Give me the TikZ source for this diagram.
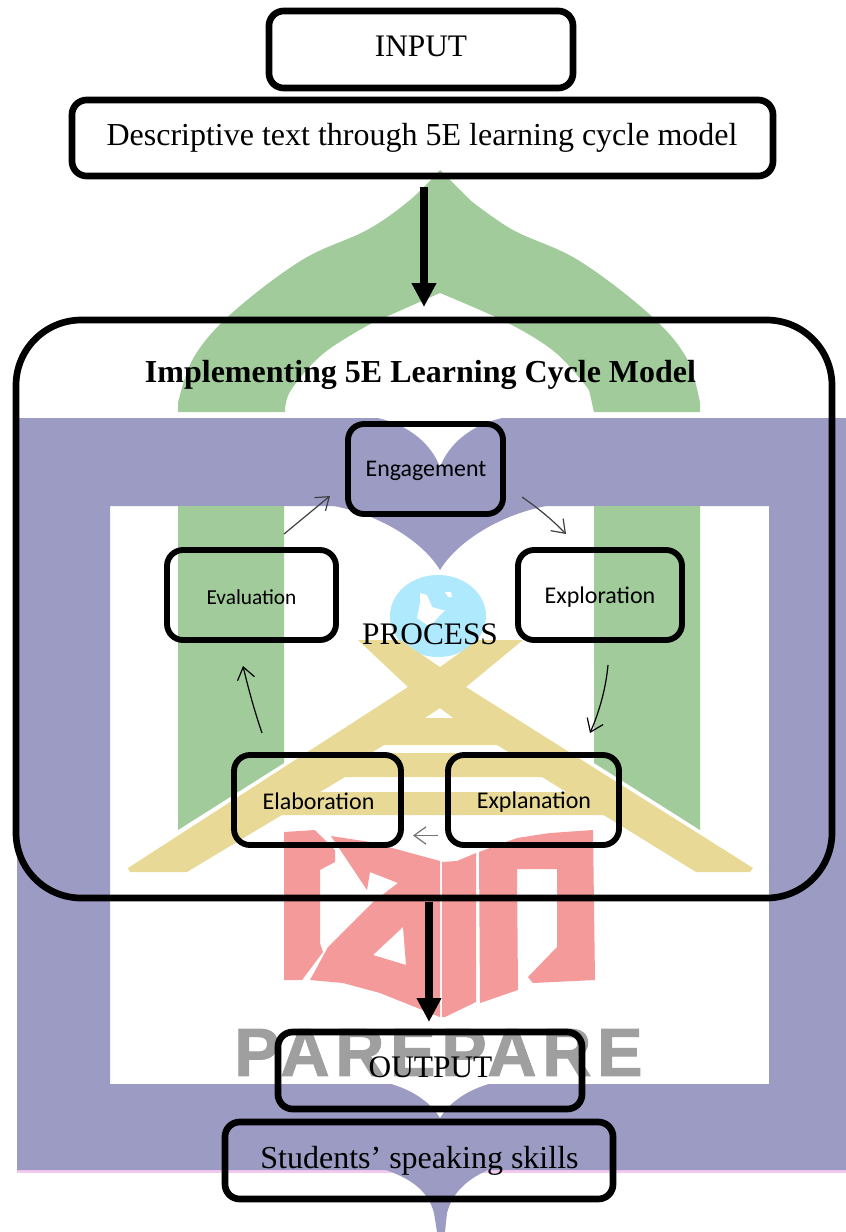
\documentclass[tikz,border=0pt]{standalone}
\usepackage{fontspec}
\usetikzlibrary{arrows.meta}
\setmainfont{Liberation Serif}
\newfontfamily\calibfont{Carlito}
\newfontfamily\parefont[LetterSpace=8.5,BoldFeatures={FakeBold=1.5}]{Liberation Sans}
\definecolor{wmgreen}{HTML}{A1CB9B}
\definecolor{wmpurple}{HTML}{9B9BC4}
\definecolor{wmyellow}{HTML}{E8DA96}
\definecolor{wmred}{HTML}{F59A9A}
\definecolor{wmblue}{HTML}{AFE9FD}
\definecolor{wmgray}{HTML}{9F9F9F}
\definecolor{wmpink}{HTML}{F5C8F0}
\tikzset{
  boxsize/.style 2 args={minimum width=#1*0.75pt,minimum height=#2*0.75pt},
  outerbox/.style={draw=black,line width=5pt,rounded corners=11pt,inner sep=0pt,fill=none},
  innerbox/.style={draw=black,line width=4.4pt,rounded corners=12pt,inner sep=0pt,fill=none},
  serifbig/.style={font=\fontsize{23.5}{26}\selectfont},
  serifwide/.style={font=\fontsize{24}{26}\selectfont},
  calib/.style={font=\calibfont\fontsize{#1}{20}\selectfont},
  bigarrow/.style={line width=5.6pt,-{Triangle[length=18pt,width=17.5pt]}},
  thinarrow/.style={line width=0.9pt,-{Straight Barb[length=9pt,width=13pt,line width=0.9pt]}},
}
\begin{document}
\begin{tikzpicture}[x=0.75pt,y=-0.75pt]
\useasboundingbox (0,0) rectangle (846,1232);
\fill[white] (0,0) rectangle (846,1232);
% --- watermark ---
% dome
\fill[wmgreen] (178,412) -- plot[smooth,tension=.6] coordinates {(178,403) (194,357) (232,313) (302,260) (367,230) (410,200) (440,170)}
  -- plot[smooth,tension=.6] coordinates {(470,200) (513,230) (578,260) (648,313) (686,357) (700,403)} -- (700,412) -- (594,412)
  -- plot[smooth,tension=.6] coordinates {(589,390) (556,353) (508,323) (440,293)}
  -- plot[smooth,tension=.6] coordinates {(372,323) (324,353) (291,390) (285,412)} -- cycle;
% frame
\fill[wmpink] (17,1170) rectangle (846,1173);
\fill[wmpurple,even odd rule] (17,418) rectangle (846,1170) (110,506) rectangle (769,1084);
% frame ornaments
\fill[white] (378,418) .. controls (410,425) and (432,445) .. (440,467) .. controls (448,445) and (470,425) .. (502,418) -- cycle;
\fill[wmpurple] (329,505) .. controls (385,515) and (425,545) .. (440,570) .. controls (455,545) and (495,515) .. (551,505) -- cycle;
\fill[white] (388,1083) .. controls (415,1090) and (433,1105) .. (440,1118) .. controls (447,1105) and (465,1090) .. (492,1083) -- cycle;
\fill[wmpurple] (383,1169) .. controls (410,1178) and (428,1190) .. (434,1213) -- (437,1232) -- (445,1232) -- (447,1213) .. controls (453,1190) and (470,1178) .. (490,1169) -- cycle;
% pillars
\fill[wmgreen] (178,506) -- (284,506) -- (284,763) -- (178,830) -- cycle;
\fill[wmgreen] (594,506) -- (700,506) -- (700,830) -- (594,763) -- cycle;
% globe
\fill[wmblue] (438,616) ellipse [x radius=48,y radius=41];
\fill[white] (420,593) -- (427,595) -- (432,607) -- (442,610) -- (445,610) -- (433,623) -- (430,627) -- (417,618) -- (420,603) -- cycle;
\fill[white] (445,592) -- (451,592) -- (452,597) -- (448,597) -- cycle;
% X / A
\fill[wmyellow,even odd rule] (358,640) -- (400,640) -- (440,667) -- (478,640) -- (523,640) -- (466,687) -- (753,868) -- (750,872) -- (696,872) -- (542,777) -- (345,777) -- (187,872) -- (130,872) -- (128,868) -- (408,687) -- cycle
  (425,718) -- (440,708) -- (453,718) -- cycle
  (384,745) -- (497,745) -- (510,753) -- (371,753) -- cycle;
\fill[wmyellow] (315,792) -- (572,792) -- (610,815) -- (278,815) -- cycle;
% red IAIN
\fill[wmred] (284,832) -- (315,830) -- (335,850) -- (335,862) -- (320,870) -- (320,943) -- (323,952) -- (302,980) -- (284,980) -- cycle;
\fill[wmred,even odd rule] (331,836) -- (370,842) -- (440,861) -- (440,1017) -- (410,1005) -- (380,993) -- (343,983) -- (310,980) -- (328,947) -- (373,902) -- (398,883) -- (370,872) -- (367,890) -- cycle
  (403,927) -- (406,965) -- (373,955) -- cycle;
\fill[wmred] (442,862) -- (457,861) -- (476,853) -- (476,1002) -- (445,1017) -- (442,1017) -- cycle;
\fill[wmred] (479,852) -- (517,838) -- (550,833) -- (593,830) -- (595,980) -- (533,983) -- (528,977) -- (557,947) -- (557,869) -- (517,869) -- (518,990) -- (480,1003) -- cycle;
% PAREPARE
\node[anchor=center,inner sep=0pt,text=wmgray,font=\parefont\bfseries\fontsize{51}{51}\selectfont] (pare) at (438.5,1052.5) {PAREPARE};
% --- diagram ---
\node[outerbox,boxsize={304}{77}] (input) at (421,49.5) {};
\node[serifbig] (inputtxt) at (421,46) {INPUT};
\node[outerbox,boxsize={701}{76}] (desc) at (422.5,138) {};
\node[serifwide] (desctxt) at (422,138) {Descriptive text through 5E learning cycle model};
\node[draw=black,line width=5pt,rounded corners=49pt,inner sep=0pt,boxsize={816}{578}] (big) at (424,609) {};
\node[font=\bfseries\fontsize{24}{26}\selectfont] (title) at (420.5,375) {Implementing 5E Learning Cycle Model};
\node[innerbox,boxsize={155}{90}] (engage) at (425.5,469) {};
\node[calib=17.9] (engagetxt) at (426,471) {Engagement};
\node[innerbox,boxsize={169}{90}] (eval) at (251.5,595) {};
\node[calib=16] (evaltxt) at (251.5,597) {Evaluation};
\node[innerbox,boxsize={164}{90}] (explor) at (600,595) {};
\node[calib=18] (explortxt) at (600,597) {Exploration};
\node[innerbox,boxsize={167}{90}] (elab) at (317.5,800) {};
\node[calib=18] (elabtxt) at (318.5,801) {Elaboration};
\node[innerbox,boxsize={171}{90}] (explan) at (533.5,800) {};
\node[calib=18] (explantxt) at (534,802) {Explanation};
\node[serifbig] (process) at (430,634) {PROCESS};
\node[outerbox,boxsize={304}{77}] (output) at (430,1070.5) {};
\node[serifbig] (outputtxt) at (430.5,1067) {OUTPUT};
\node[outerbox,boxsize={388}{77}] (students) at (419,1160.5) {};
\node[serifwide] (studentstxt) at (419.5,1161) {Students’ speaking skills};
% arrows
\draw[bigarrow] ([shift={(1.5,49)}]desc.center) -- ([shift={(0,-302)}]big.center);
\draw[bigarrow] ([shift={(5,293)}]big.center) -- ([shift={(-1,-48.5)}]output.center);
\draw[thinarrow,black!75] ([shift={(32.5,-61)}]eval.center) -- ([shift={(-95.5,27)}]engage.center);
\draw[thinarrow,black!75] ([shift={(96.5,28)}]engage.center) .. controls ([shift={(111,38)}]engage.center) and ([shift={(126,50)}]engage.center) .. ([shift={(-34,-61)}]explor.center);
\draw[thinarrow] ([shift={(8,70)}]explor.center) .. controls ([shift={(6,92)}]explor.center) and ([shift={(0,115)}]explor.center) .. ([shift={(56.5,-67)}]explan.center);
\draw[thinarrow,black!55,line width=1.3pt] ([shift={(-95.5,35.5)}]explan.center) -- ([shift={(95.5,35.5)}]elab.center);
\draw[thinarrow] ([shift={(-55.5,-67)}]elab.center) .. controls ([shift={(-64,-92)}]elab.center) and ([shift={(-70,-115)}]elab.center) .. ([shift={(-8.5,71)}]eval.center);
\end{tikzpicture}
\end{document}
